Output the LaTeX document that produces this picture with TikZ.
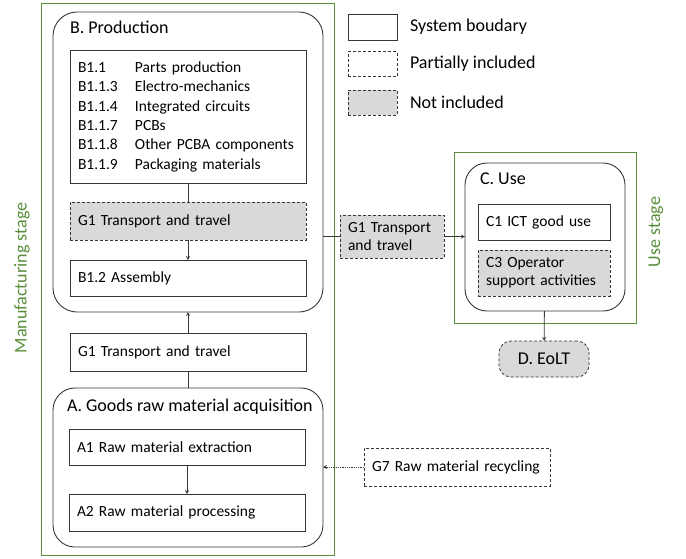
\documentclass[tikz,border=0pt]{standalone}
\usepackage{fontspec}
\setmainfont{Carlito}
\definecolor{stage-green}{RGB}{88,142,58}
\definecolor{not-incl}{RGB}{217,217,217}
\definecolor{line-gray}{RGB}{55,55,55}
\usetikzlibrary{
  positioning,   % relative placement
  arrows.meta
}
\tikzset{
  every node/.style = {
    outer sep = 0pt,
    inner sep = 0pt,
    font = \fontsize{15.5}{18}\selectfont
  },
  stage/.style = {draw=stage-green, line width=1pt, rectangle},
  phase/.style = {draw=line-gray, line width=0.9pt, rectangle, rounded corners=24pt},
  title/.style = {anchor=west, font=\fontsize{18}{21}\selectfont},
  proc/.style = {
    draw=line-gray, line width=0.8pt, rectangle,
    minimum height=36pt,
    text width=220pt, inner xsep=8pt,
    align=left
  },
  partial/.append style = {dash pattern=on 3pt off 2pt},
  excl/.append style = {partial, fill=not-incl},
  stagetext/.style = {rotate=90, text=stage-green, font=\fontsize{18}{21}\selectfont},
  legendkey/.style = {draw=line-gray, line width=0.8pt, minimum width=49pt, minimum height=26pt},
  legendtext/.style = {anchor=west, font=\fontsize{18}{21}\selectfont},
  flow/.style = {draw=line-gray, line width=0.8pt},
  >=stealth  % arrow type
}

\begin{document}
\begin{tikzpicture}[x=1pt, y=-1pt]
\useasboundingbox (0,0) rectangle (686,558);

% manufacturing stage
\node[stage, minimum width=293pt, minimum height=552pt] (manuf) at (187.5,279) {};
\node[stagetext] (manuf-lbl) at (22,278) {Manufacturing stage};

% B. Production
\node[phase, minimum width=270pt, minimum height=300pt] (prod) at (188,162) {};
\node[title] (prod-lbl) at (70,27) {B. Production};
\node[proc, minimum height=133pt] (parts) at (188,117) {%
  \fontsize{15.5}{19.3}\selectfont
  \begin{tabular}{@{}p{57pt}@{}l@{}}
    B1.1   & Parts production \\
    B1.1.3 & Electro-mechanics \\
    B1.1.4 & Integrated circuits \\
    B1.1.7 & PCBs \\
    B1.1.8 & Other PCBA components \\
    B1.1.9 & Packaging materials
  \end{tabular}};
\node[proc, excl, minimum height=38pt] (tr-b) at (188,221) {G1 Transport and travel};
\node[proc] (asm) at (188,278) {B1.2 Assembly};

% transport between A and B
\node[proc, minimum height=38pt] (tr-ab) at (188,352) {G1 Transport and travel};

% A. Goods raw material acquisition
\node[phase, rounded corners=22pt, minimum width=270pt, minimum height=159pt] (acq) at (188,467.5) {};
\node[title] (acq-lbl) at (67,407) {A. Goods raw material acquisition};
\node[proc] (a1) at (187,447) {A1 Raw material extraction};
\node[proc, minimum height=37pt] (a2) at (187,512.5) {A2 Raw material processing};

% legend
\node[legendkey] (key-sys) at (372.5,27) {};
\node[legendtext] (txt-sys) at (410,27) {System boudary};
\node[legendkey, partial, minimum height=25pt] (key-part) at (372.5,64) {};
\node[legendtext] (txt-part) at (410,64) {Partially included};
\node[legendkey, excl, minimum height=25pt] (key-excl) at (372.5,102.5) {};
\node[legendtext] (txt-excl) at (410,102.5) {Not included};

% use stage
\node[stage, minimum width=182pt, minimum height=171pt] (usest) at (545,237.5) {};
\node[stagetext] (use-lbl) at (656,232) {Use stage};
\node[phase, rounded corners=22pt, minimum width=160pt, minimum height=148pt] (use) at (545,237) {};
\node[title] (use-lbl2) at (480,179) {C. Use};
\node[proc, text width=116pt, minimum height=36pt] (c1) at (544,222) {C1 ICT good use};
\node[proc, excl, text width=116pt, minimum height=46pt] (c3) at (544,273) {C3 Operator\\support activities};

% transport to use
\node[proc, excl, text width=88pt, minimum height=43pt] (tr-bc) at (392,236.5) {G1 Transport\\and travel};

% end of life
\node[draw=line-gray, line width=0.8pt, excl, rounded corners=12pt,
      minimum width=90pt, minimum height=36pt, font=\fontsize{18}{21}\selectfont] (eol) at (544,359) {D. EoLT};

% recycling
\node[proc, partial, text width=170pt, minimum height=38pt] (recyc) at (457,467) {G7 Raw material recycling};

% connectors
\draw[flow] (parts) -- (tr-b);
\draw[flow, ->] (tr-b) -- (asm);
\draw[flow, ->] (tr-ab) -- (prod);
\draw[flow] (tr-ab) -- (acq);
\draw[flow, ->] (a1) -- (a2);
\draw[flow] (prod.east |- tr-bc.west) -- (tr-bc.west);
\draw[flow, ->] (tr-bc.east) -- (use.west |- tr-bc.east);
\draw[flow, ->] (use) -- (eol);
\draw[flow, densely dotted, ->] (recyc) -- (acq.east |- recyc.west);
\end{tikzpicture}
\end{document}
